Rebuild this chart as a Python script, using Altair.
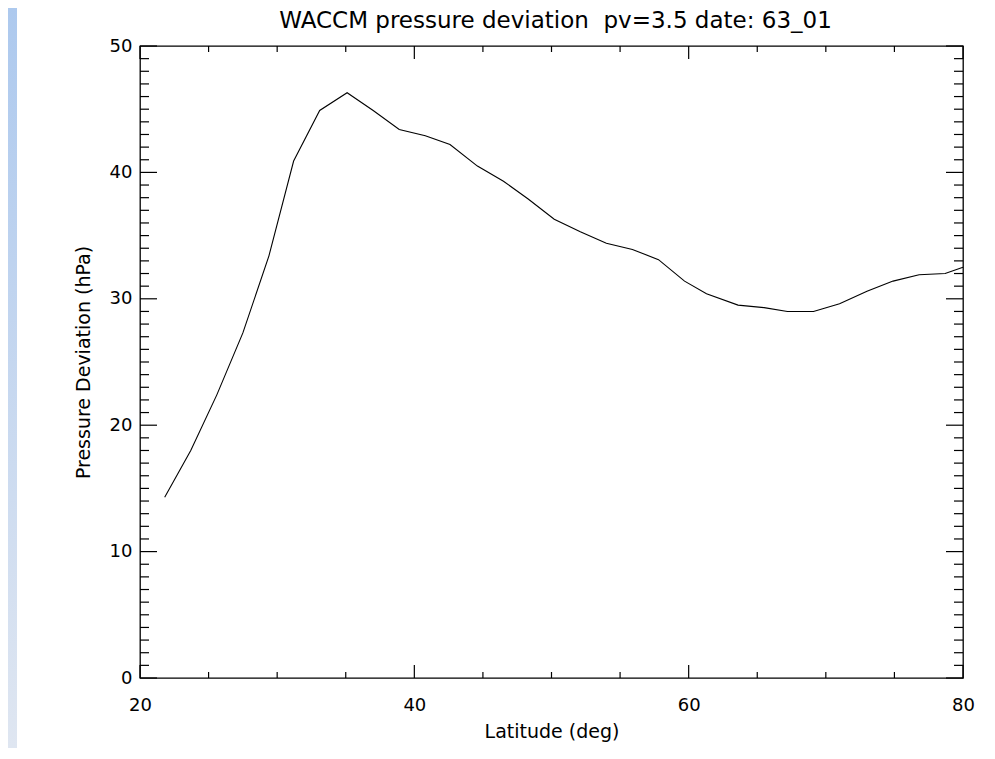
import altair as alt
import pandas as pd

# ---- data ----
latitude = [21.8, 23.7, 25.6, 27.5, 29.4, 31.2, 33.1, 35.1, 37.0, 38.9,
            40.8, 42.6, 44.6, 46.5, 48.3, 50.2, 52.1, 54.0, 55.9, 57.8,
            59.7, 61.3, 63.6, 65.5, 67.2, 69.1, 71.0, 73.0, 74.9, 76.8,
            78.7, 80.0]
deviation = [14.3, 18.0, 22.4, 27.3, 33.4, 40.9, 44.9, 46.3, 44.9, 43.4,
             42.9, 42.2, 40.5, 39.3, 37.9, 36.3, 35.3, 34.4, 33.9, 33.1,
             31.4, 30.4, 29.5, 29.3, 29.0, 29.0, 29.6, 30.6, 31.4, 31.9,
             32.0, 32.5]

x_major = [20, 40, 60, 80]
x_minor = [25, 30, 35, 45, 50, 55, 65, 70, 75]
y_major = [0, 10, 20, 30, 40, 50]
y_minor = [v for v in range(0, 51) if v % 10 != 0]

# double space kept visible with a no-break space
title_text = "WACCM pressure deviation \u00a0pv=3.5 date: 63_01"

W, H = 823, 632
FONT = "DejaVu Sans"

df = pd.DataFrame({"lat": latitude, "dev": deviation})
xs = alt.Scale(domain=[20, 80], nice=False, zero=False)
ys = alt.Scale(domain=[0, 50], nice=False, zero=False)

line = alt.Chart(df).mark_line(color="black", strokeWidth=1.1).encode(
    x=alt.X("lat:Q", scale=xs,
            axis=alt.Axis(title="Latitude (deg)", values=x_major, ticks=False, tickSize=0,
                          domain=False, grid=False, labelPadding=18, labelFlush=False,
                          labelFontSize=18, labelFont=FONT, labelColor="black",
                          titleFontSize=19, titleFont=FONT, titleFontWeight="normal",
                          titleColor="black", titlePadding=8)),
    y=alt.Y("dev:Q", scale=ys,
            axis=alt.Axis(title="Pressure Deviation (hPa)", values=y_major, ticks=False, tickSize=0,
                          domain=False, grid=False, labelPadding=8, labelFlush=False,
                          labelFontSize=18, labelFont=FONT, labelColor="black",
                          titleFontSize=19, titleFont=FONT, titleFontWeight="normal",
                          titleColor="black", titlePadding=16)),
)

title = alt.Chart(pd.DataFrame({"t": [title_text]})).mark_text(
    fontSize=23, font=FONT, color="black", align="center", baseline="middle", clip=False,
).encode(text="t:N", x=alt.value(W / 2 + 4), y=alt.value(-25))

def xticks(vals, length):
    d = pd.DataFrame({"t": vals})
    bottom = alt.Chart(d).mark_rule(color="black", strokeWidth=1.2).encode(
        x=alt.X("t:Q", scale=xs), y=alt.value(H), y2=alt.value(H - length))
    top = alt.Chart(d).mark_rule(color="black", strokeWidth=1.2).encode(
        x=alt.X("t:Q", scale=xs), y=alt.value(0), y2=alt.value(length))
    return [bottom, top]

def yticks(vals, length):
    d = pd.DataFrame({"t": vals})
    left = alt.Chart(d).mark_rule(color="black", strokeWidth=1.2).encode(
        y=alt.Y("t:Q", scale=ys), x=alt.value(0), x2=alt.value(length))
    right = alt.Chart(d).mark_rule(color="black", strokeWidth=1.2).encode(
        y=alt.Y("t:Q", scale=ys), x=alt.value(W), x2=alt.value(W - length))
    return [left, right]

strip = alt.Chart(pd.DataFrame({"a": [0]})).mark_rect(
    color=alt.Gradient(gradient="linear", x1=0, y1=0, x2=0, y2=1,
                       stops=[alt.GradientStop(color="#adc9ee", offset=0),
                              alt.GradientStop(color="#dfe6f1", offset=1)]),
    clip=False,
).encode(x=alt.value(-132), x2=alt.value(-123), y=alt.value(-38), y2=alt.value(H + 70))

layers = [strip, title, line] + xticks(x_major, 13) + xticks(x_minor, 6) + yticks(y_major, 17) + yticks(y_minor, 9)

chart = alt.layer(*layers).properties(
    width=W, height=H,
    autosize=alt.AutoSizeParams(type="none"),
    padding={"left": 132, "top": 38, "right": 20, "bottom": 70},
    background="white",
).configure_view(stroke="black", strokeWidth=1.3)

chart.save("out.html", embed_options={"renderer": "svg", "actions": False})
